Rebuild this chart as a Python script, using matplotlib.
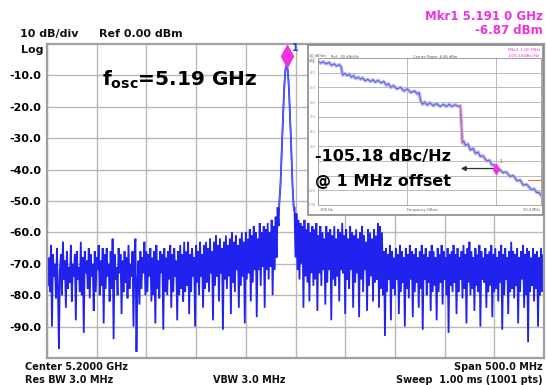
import numpy as np
import matplotlib
matplotlib.use("Agg")
import matplotlib.pyplot as plt
from matplotlib.patches import Rectangle
from matplotlib.transforms import ScaledTranslation

# ---------------- data: main spectrum ----------------
start_ghz, stop_ghz = 4.95, 5.45
ytick_vals = [-10, -20, -30, -40, -50, -60, -70, -80, -90]
ytick_labels = ["-10.0", "-20.0", "-30.0", "-40.0", "-50.0", "-60.0", "-70.0", "-80.0", "-90.0"]

# trace left of carrier, 1 MHz steps from 4.950 GHz
left_start_ghz = 4.950
left_noise_dbm = [
    -66, -77, -68, -79, -64, -90, -67, -74, -70, -81, -65, -78, -97, -72, -67, -80, -63, -75, -69, -84,
    -66, -78, -71, -76, -64, -82, -70, -74, -67, -88, -66, -75, -71, -79, -63, -80, -68, -92, -66, -73,
    -69, -78, -65, -81, -67, -74, -70, -85, -66, -79, -68, -72, -64, -80, -69, -77, -65, -89, -67, -78,
    -65, -74, -70, -82, -66, -78, -62, -94, -67, -75, -71, -80, -65, -73, -67, -86, -69, -79, -66, -76,
    -68, -81, -64, -78, -70, -74, -66, -90, -67, -62, -98, -76, -69, -83, -66, -78, -68, -73, -63, -80,
    -66, -79, -67, -74, -65, -82, -68, -80, -66, -89, -64, -78, -69, -81, -66, -73, -67, -91, -65, -79,
    -68, -80, -66, -75, -64, -84, -67, -79, -65, -74, -69, -88, -66, -80, -64, -78, -67, -82, -63, -79,
    -66, -77, -63, -86, -67, -79, -65, -74, -68, -90, -64, -76, -66, -80, -63, -74, -67, -84, -64, -78,
    -63, -76, -65, -79, -62, -73, -66, -88, -63, -77, -61, -74, -64, -82, -62, -73, -65, -91, -63, -75,
    -61, -78, -64, -74, -62, -86, -60, -76, -63, -79, -61, -72, -64, -84, -62, -77, -60, -74, -63, -89,
    -60, -75, -62, -73, -59, -82, -61, -76, -58, -72, -60, -87, -62, -72, -57, -77, -60, -71, -58, -84,
    -59, -72, -57, -75, -60, -71, -56, -80, -58, -72, -55, -68, -52, -58,
]
# carrier peak, 0.5 MHz steps from 5.1835 GHz
peak_start_ghz = 5.1835
peak_dbm = [-52, -49, -47, -44, -40, -35, -31, -27, -23, -19, -15, -12, -9.6, -8, -7.1, -6.87,
            -7.1, -8, -9.6, -12, -15, -19, -23, -27, -31, -36, -41, -45, -48, -51, -53]
# trace right of carrier, 1 MHz steps from 5.199 GHz
right_start_ghz = 5.199
right_noise_dbm = [
    -52, -68, -54, -72, -56, -75, -57, -70, -58, -84, -56, -74, -59, -76, -57, -82, -60, -73, -58, -77,
    -59, -75, -57, -85, -61, -73, -58, -77, -60, -72, -62, -83, -58, -76, -60, -72, -59, -88, -61, -75,
    -58, -77, -62, -74, -59, -82, -60, -72, -57, -73, -61, -86, -59, -75, -62, -78, -58, -72, -60, -84,
    -61, -76, -59, -73, -62, -87, -60, -75, -58, -79, -61, -72, -63, -85, -59, -77, -60, -74, -62, -82,
    -59, -76, -61, -75, -57, -84, -58, -78, -60, -80, -66, -93, -65, -79, -67, -75, -64, -88, -66, -78,
    -68, -80, -65, -75, -67, -86, -64, -79, -66, -76, -68, -90, -65, -78, -67, -81, -64, -75, -66, -87,
    -67, -79, -65, -76, -68, -84, -66, -78, -64, -91, -67, -75, -65, -80, -68, -76, -66, -85, -64, -79,
    -66, -77, -68, -88, -65, -79, -67, -76, -64, -83, -66, -75, -68, -80, -65, -92, -67, -77, -66, -79,
    -64, -76, -67, -86, -65, -79, -68, -75, -66, -81, -64, -78, -67, -89, -65, -76, -63, -80, -66, -78,
    -68, -85, -65, -77, -67, -79, -64, -90, -66, -75, -68, -76, -65, -84, -67, -79, -66, -77, -64, -87,
    -67, -79, -65, -78, -68, -82, -66, -76, -64, -91, -67, -80, -65, -75, -68, -86, -66, -79, -63, -78,
    -66, -81, -67, -77, -65, -89, -68, -79, -66, -75, -64, -84, -67, -80, -65, -95, -66, -79, -68, -77,
    -65, -82, -67, -78, -66, -90, -68, -80, -65, -79, -67, -81,
]
mkr_ghz = 5.191
mkr_dbm = -6.87

# ---------------- data: phase noise inset ----------------
pn_freq_hz = [100, 115, 130, 150, 175, 200, 230, 260, 300, 330, 345, 361, 400, 450, 500, 560, 630,
              700, 800, 900, 1000, 1150, 1306, 1500, 1700, 1950, 2200, 2600, 2972, 3400, 3800, 4300,
              4963, 5800, 7129, 8500, 10000, 12000, 14500, 17072, 18500, 19950, 22000, 25000, 28000,
              32000, 38830, 45000, 55000, 65000, 75690, 88000, 100000, 120000, 140300, 155600,
              172500, 185000, 200000, 230000, 260200, 300000, 340000, 390000, 434800, 500000,
              600000, 700000, 800000, 900000, 1000000, 1150000, 1400000, 1650000, 2000000, 2400000,
              2900000, 3400000, 4000000, 4800000, 6000000, 7000000, 8000000, 9000000, 10000000]
pn_dbc = [-32.0, -33.5, -32.5, -34.0, -33.0, -35.0, -34.0, -35.5, -34.5, -36.0, -39.5, -41.6, -40.5,
          -42.0, -41.0, -43.0, -42.0, -44.0, -43.0, -44.5, -43.5, -45.5, -44.5, -46.0, -44.8, -46.5,
          -45.2, -47.0, -46.0, -48.5, -47.5, -50.0, -48.8, -51.0, -50.0, -52.5, -51.0, -53.5, -52.5,
          -54.5, -53.5, -59.0, -61.5, -60.0, -62.0, -60.5, -62.5, -61.0, -63.0, -61.5, -63.0, -61.5,
          -63.0, -61.8, -63.0, -62.5, -87.8, -86.5, -89.5, -88.5, -92.6, -91.5, -95.0, -94.0, -97.0,
          -96.5, -100.0, -99.5, -103.0, -102.5, -105.18, -105.5, -108.0, -107.5, -110.5, -110.0,
          -113.5, -113.0, -116.5, -116.0, -119.5, -119.0, -121.5, -121.5, -123.5]
drop_freq_hz = [155600, 172500]
drop_dbc = [-62.5, -87.8]
spur_freq_hz = [5.2e6, 9.8e6]
spur_dbc = [-113.0, -113.0]
pn_mkr_hz = 1.0e6
pn_mkr_dbc = -105.18
arrow_tip_hz = 1.6e5
pn_yticks = [-30, -40, -50, -60, -70, -80, -90, -100, -110, -120, -130]
# labels hidden under the large annotation are left blank
pn_ytick_labels = ["-30", "-40", "-50", "-60", "-70", "-80", "-90", "", "", "-120", "-130"]

# ---------------- figure ----------------
W, H = 546, 385
fig = plt.figure(figsize=(W / 100, H / 100), dpi=100)
fig.patch.set_facecolor("white")


def fx(px):
    return px / W


def fy(py):
    return 1 - py / H


ax = fig.add_axes([fx(47), fy(358), (544 - 47) / W, (358 - 44) / H])
left_f = left_start_ghz + 0.001 * np.arange(len(left_noise_dbm))
peak_f = peak_start_ghz + 0.0005 * np.arange(len(peak_dbm))
right_f = right_start_ghz + 0.001 * np.arange(len(right_noise_dbm))
freq = np.concatenate([left_f, peak_f, right_f])
trace = np.concatenate([left_noise_dbm, peak_dbm, right_noise_dbm])
ax.plot(freq, trace, color="#2222ee", lw=1.3, zorder=2, solid_joinstyle="miter")
ax.plot(peak_f, peak_dbm, color="#5a5aff", lw=1.0, zorder=2.1)

ax.set_xlim(start_ghz, stop_ghz)
ax.set_ylim(-100, 0)
ax.set_xticks(np.linspace(start_ghz, stop_ghz, 11))
ax.set_xticklabels([])
ax.set_yticks(ytick_vals)
ax.set_yticklabels(ytick_labels, fontsize=8, fontweight="bold")
ax.tick_params(length=0, pad=4)
ax.grid(True, color="#b8b8b8", lw=1.0, zorder=0)
ax.set_axisbelow(True)
for s in ax.spines.values():
    s.set_color("#a0a0a0")
    s.set_linewidth(1.6)

# marker diamond (drawn above the peak point)
off = ScaledTranslation(0, 7 / 72, fig.dpi_scale_trans)
ax.plot([mkr_ghz], [mkr_dbm], marker="d", ms=11, color="#ee33dd", mec="#ee33dd",
        transform=ax.transData + off, zorder=5, clip_on=False)
ax.annotate("1", xy=(mkr_ghz, mkr_dbm), xytext=(4, 13), textcoords="offset points",
            fontsize=7, color="#3535ff", fontweight="bold", ha="left", va="center",
            annotation_clip=False)

# ---------------- inset box ----------------
rect = Rectangle((fx(308), fy(215)), 235 / W, 170 / H, transform=fig.transFigure,
                 facecolor="white", edgecolor="#8a8a8a", lw=1.2, zorder=1.5)
fig.add_artist(rect)

axi = fig.add_axes([fx(318), fy(205), (541 - 318) / W, (205 - 58) / H], zorder=2)
axi.set_xscale("log")
axi.set_xlim(100, 1e7)
axi.set_ylim(-130, -30)
axi.set_yticks(pn_yticks)
axi.set_yticklabels(pn_ytick_labels, fontsize=2.5, color="#888888")
axi.tick_params(which="both", length=0, pad=1.5, labelbottom=False)
axi.grid(True, which="major", color="#b0b0b0", lw=0.6)
axi.grid(True, which="minor", axis="x", color="#cfcfcf", lw=0.5)
for s in axi.spines.values():
    s.set_color("#9a9a9a")
    s.set_linewidth(0.6)
axi.plot(pn_freq_hz, pn_dbc, color="#adadf4", lw=2.6, alpha=0.8, solid_joinstyle="round")
axi.plot(pn_freq_hz, pn_dbc, color="#5a5ad0", lw=0.7)
axi.plot(drop_freq_hz, drop_dbc, color="#e86a8a", lw=0.9)
axi.plot(spur_freq_hz, spur_dbc, color="#ff6a40", lw=0.8)
axi.plot([pn_mkr_hz], [pn_mkr_dbc], marker="d", ms=5, color="#ee33dd", zorder=5)
axi.annotate("1", xy=(pn_mkr_hz, pn_mkr_dbc), xytext=(2, 4), textcoords="offset points",
             fontsize=3.5, color="#e03060")
axi.annotate("", xy=(arrow_tip_hz, pn_mkr_dbc), xytext=(pn_mkr_hz, pn_mkr_dbc),
             arrowprops=dict(arrowstyle="-|>", color="#303030", lw=0.9, mutation_scale=7,
                             shrinkA=0, shrinkB=0))

# inset tiny texts
tiny = dict(fontsize=2.6, color="#555555")
fig.text(fx(309), fy(56), "10 dB/div", ha="left", va="center", **tiny)
fig.text(fx(309), fy(61), "Log", ha="left", va="center", **tiny)
fig.text(fx(345), fy(57), "Ref  -30 dBc/Hz", ha="center", va="center", **tiny)
fig.text(fx(435), fy(57), "Carrier Power -6.86 dBm", ha="center", va="center", **tiny)
fig.text(fx(540), fy(50), "Mkr1 1.00 MHz", ha="right", va="center", fontsize=3.2, color="#ee33dd")
fig.text(fx(540), fy(56), "-105.18dBc/Hz", ha="right", va="center", fontsize=3.2, color="#ee33dd")
fig.text(fx(320), fy(210), "100 Hz", ha="left", va="center", **tiny)
fig.text(fx(422), fy(210), "Frequency Offset", ha="center", va="center", **tiny)
fig.text(fx(540), fy(210), "10.0 MHz", ha="right", va="center", **tiny)

# ---------------- main texts ----------------
bold = dict(fontweight="bold", color="#111111")
fig.text(fx(20), fy(34), "10 dB/div", ha="left", va="center", fontsize=8, **bold)
fig.text(fx(99), fy(34), "Ref 0.00 dBm", ha="left", va="center", fontsize=8, **bold)
fig.text(fx(21), fy(50), "Log", ha="left", va="center", fontsize=8, **bold)
fig.text(fx(543), fy(16), "Mkr1 5.191 0 GHz", ha="right", va="center", fontsize=8.5,
         fontweight="bold", color="#ee33dd")
fig.text(fx(543), fy(31), "-6.87 dBm", ha="right", va="center", fontsize=8.5,
         fontweight="bold", color="#ee33dd")

fig.text(fx(25), fy(367), "Center 5.2000 GHz", ha="left", va="center", fontsize=7, **bold)
fig.text(fx(25), fy(380), "Res BW 3.0 MHz", ha="left", va="center", fontsize=7, **bold)
fig.text(fx(213), fy(380), "VBW 3.0 MHz", ha="left", va="center", fontsize=7, **bold)
fig.text(fx(543), fy(367), "Span 500.0 MHz", ha="right", va="center", fontsize=7, **bold)
fig.text(fx(543), fy(380), "Sweep  1.00 ms (1001 pts)", ha="right", va="center", fontsize=7, **bold)

fig.text(fx(102), fy(86), r"$\mathbf{f_{osc}}$=5.19 GHz", ha="left", va="baseline",
         fontsize=14.5, fontweight="bold", color="black", zorder=6)
fig.text(fx(315), fy(157), "-105.18 dBc/Hz", ha="left", va="center", fontsize=11.5,
         fontweight="bold", color="black", zorder=6)
fig.text(fx(315), fy(181), "@ 1 MHz offset", ha="left", va="center", fontsize=11.5,
         fontweight="bold", color="black", zorder=6)

fig.savefig("out.png", dpi=100, facecolor="white")
